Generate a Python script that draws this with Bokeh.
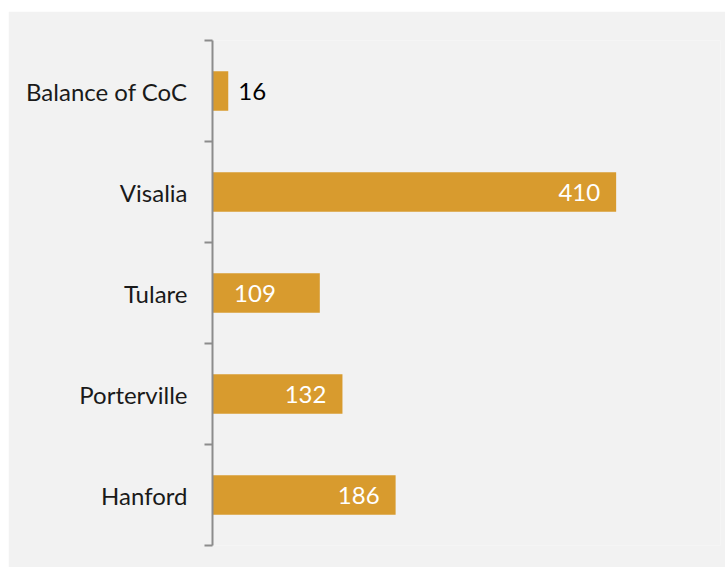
from bokeh.plotting import figure
from bokeh.models import ColumnDataSource, Range1d, FixedTicker, Spacer
from bokeh.layouts import column, row
from bokeh.core.properties import value
from bokeh.embed import file_html
from bokeh.resources import INLINE

# data (top to bottom)
categories = ["Balance of CoC", "Visalia", "Tulare", "Porterville", "Hanford"]
counts = [16, 410, 109, 132, 186]

BAR = "#D89B2E"
BG = "#F2F2F2"
AX = "#8C8C8C"
FONT = "Lato"

n = len(categories)
ypos = [n - i - 0.5 for i in range(n)]

p = figure(width=717, height=556, output_backend="svg", toolbar_location=None,
           x_range=Range1d(0, 516), y_range=Range1d(0, n),
           min_border_left=204, min_border_top=29, min_border_bottom=22,
           min_border_right=5)
p.background_fill_color = BG
p.border_fill_color = BG
p.outline_line_color = None
p.grid.visible = False
p.xaxis.visible = False

src = ColumnDataSource(dict(y=ypos, v=counts, cat=categories))
p.hbar(y="y", right="v", left=0, height=0.39, source=src,
       fill_color=BAR, line_color=None)

ax = p.yaxis[0]
ax.ticker = FixedTicker(ticks=ypos, minor_ticks=list(range(n + 1)))
ax.major_label_overrides = {y: c for y, c in zip(ypos, categories)}
ax.axis_line_color = AX
ax.axis_line_width = 2
ax.major_tick_line_color = None
ax.major_tick_out = 8
ax.major_tick_in = 0
ax.minor_tick_line_color = AX
ax.minor_tick_line_width = 2
ax.minor_tick_out = 8
ax.minor_tick_in = 0
ax.major_label_standoff = 17
ax.major_label_text_font = FONT
ax.major_label_text_font_size = "24px"
ax.major_label_text_color = "#1a1a1a"

# value labels
inside_offsets = {"Visalia": -16, "Tulare": -44, "Porterville": -16, "Hanford": -16}
ins = [i for i, v in enumerate(counts) if v >= 50]
outs = [i for i, v in enumerate(counts) if v < 50]
src_in = ColumnDataSource(dict(
    x=[counts[i] for i in ins], y=[ypos[i] for i in ins],
    t=[str(counts[i]) for i in ins],
    dx=[inside_offsets[categories[i]] for i in ins]))
p.text(x="x", y="y", text="t", x_offset="dx", source=src_in,
       text_align="right", text_baseline="middle", text_color="white",
       text_font=value(FONT), text_font_size="24px")
src_out = ColumnDataSource(dict(
    x=[counts[i] for i in outs], y=[ypos[i] for i in outs],
    t=[str(counts[i]) for i in outs]))
p.text(x="x", y="y", text="t", x_offset=10, source=src_out,
       text_align="left", text_baseline="middle", text_color="black",
       text_font=value(FONT), text_font_size="24px")

layout = column(Spacer(height=11), row(Spacer(width=8), p))
open("out.html", "w").write(file_html(layout, INLINE))
